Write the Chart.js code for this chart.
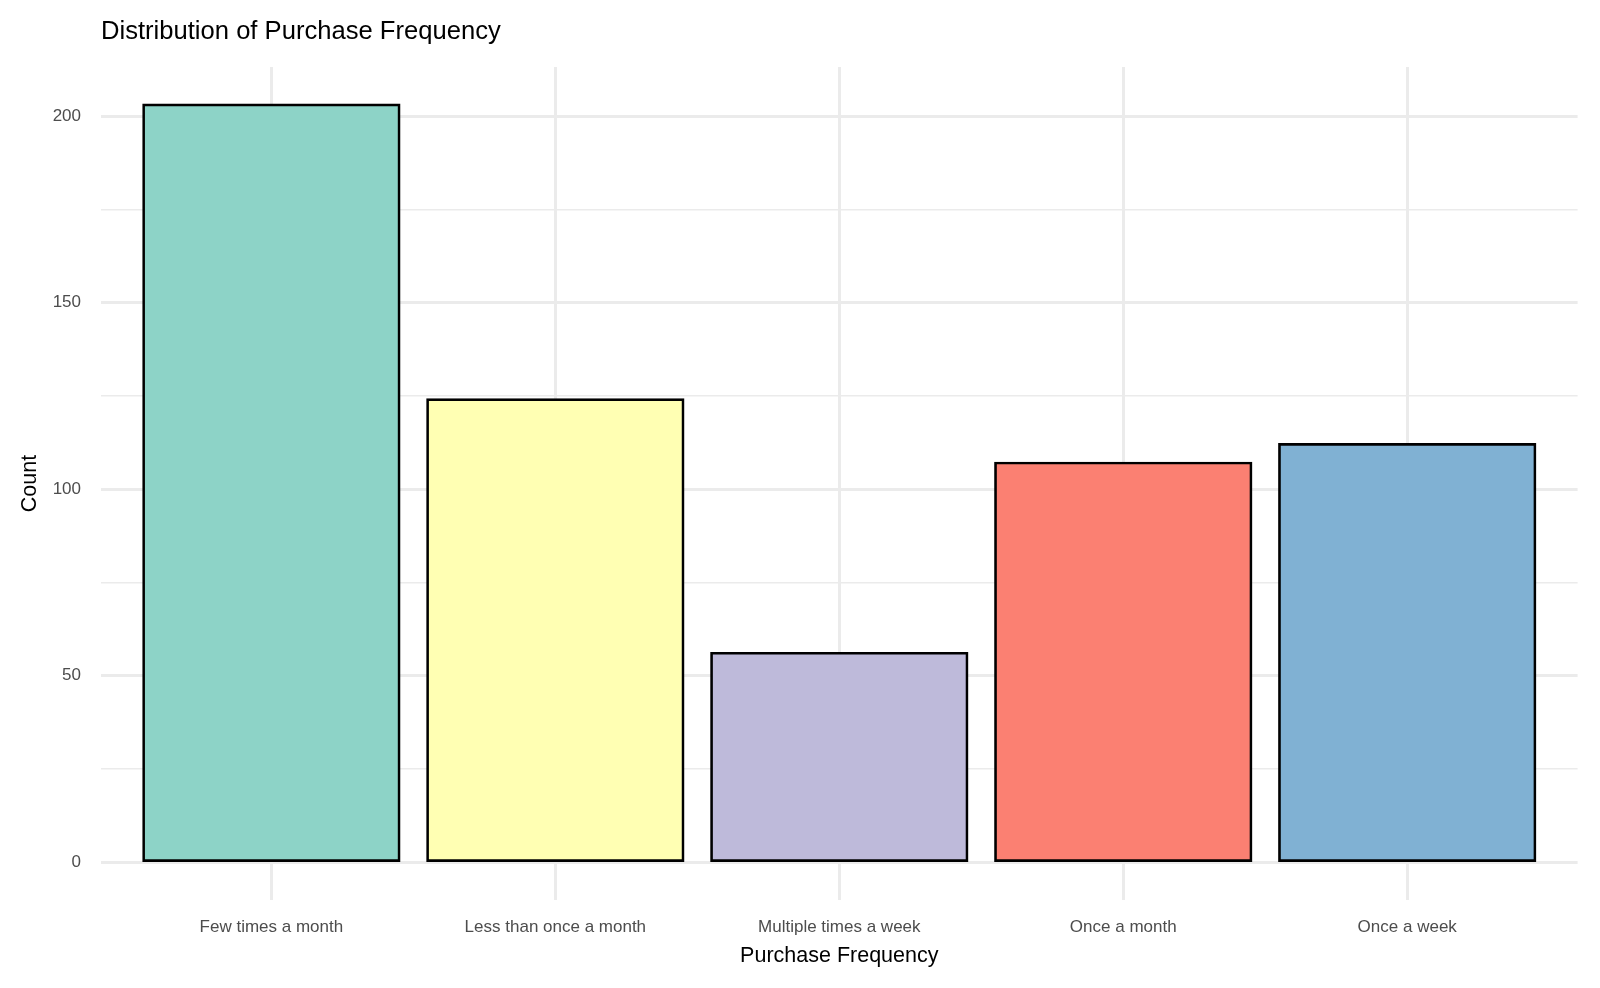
<!DOCTYPE html>
<html>
<head>
<meta charset="utf-8">
<script src="https://cdn.jsdelivr.net/npm/chart.js@4"></script>
<style>
  html, body { margin: 0; padding: 0; background: #fff; }
  #wrap { width: 1600px; height: 988px; }
</style>
</head>
<body>
<div id="wrap"><canvas id="barchart" width="1600" height="988"></canvas></div>
<script>
// data
const categories = ['Few times a month', 'Less than once a month', 'Multiple times a week', 'Once a month', 'Once a week'];
const counts = [203, 124, 56, 107, 112];
const barColors = ['#8DD3C7', '#FFFFB3', '#BEBADA', '#FB8072', '#80B1D3'];
const yTicks = [0, 50, 100, 150, 200];

const FONT = "'Liberation Sans', Arial, sans-serif";
const gridColor = '#EBEBEB';

const ctx = document.getElementById('barchart');

new Chart(ctx, {
  type: 'bar',
  data: {
    datasets: [{
      data: counts.map((v, i) => ({ x: i, y: v })),
      backgroundColor: barColors,
      borderColor: '#000000',
      borderWidth: 2.7,
      inflateAmount: 1.35,   // centre the outline on the bar edge, like ggplot
      borderSkipped: false,
      categoryPercentage: 1,
      barPercentage: 0.9
    }]
  },
  options: {
    responsive: false,
    animation: false,
    layout: { padding: { top: 0, left: 0, bottom: 0, right: 22.4 } },
    plugins: {
      legend: { display: false },
      tooltip: { enabled: false },
      title: {
        display: true,
        text: 'Distribution of Purchase Frequency',
        align: 'start',
        fullSize: false,
        color: '#000000',
        font: { family: FONT, size: 25.6, weight: 'normal', lineHeight: 1.2 },
        padding: { top: 17, bottom: 19.3 }
      }
    },
    scales: {
      x: {
        type: 'linear',
        min: -0.6,
        max: 4.6,
        offset: false,
        border: { display: false },
        grid: { color: gridColor, lineWidth: 3, drawTicks: false, offset: false },
        ticks: {
          stepSize: 1,
          includeBounds: false,
          autoSkip: false,
          maxRotation: 0,
          padding: 17,
          color: '#4D4D4D',
          font: { family: FONT, size: 17 },
          callback: (v) => Number.isInteger(v) ? categories[v] : ''
        },
        title: {
          display: true,
          text: 'Purchase Frequency',
          color: '#000000',
          font: { family: FONT, size: 21.5 },
          padding: { top: 0, bottom: 19 }
        },
        afterFit: (scale) => { scale.height = 88; }
      },
      y: {
        min: -10.15,
        max: 213.15,
        border: { display: false },
        grid: {
          color: gridColor,
          drawTicks: false,
          lineWidth: (c) => (c.tick && yTicks.includes(c.tick.value)) ? 3 : 1.5
        },
        ticks: {
          stepSize: 25,
          includeBounds: false,
          autoSkip: false,
          padding: 20,
          color: '#4D4D4D',
          font: { family: FONT, size: 17 },
          callback: (v) => yTicks.includes(v) ? String(v) : ''
        },
        title: {
          display: true,
          text: 'Count',
          color: '#000000',
          font: { family: FONT, size: 21.5 },
          padding: { top: 17, bottom: 0 }
        },
        afterFit: (scale) => { scale.width = 101; }
      }
    }
  }
});
</script>
</body>
</html>
